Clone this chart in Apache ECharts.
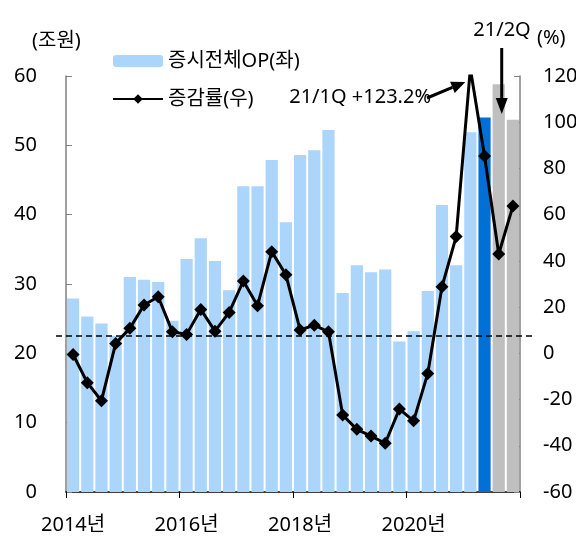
<!DOCTYPE html>
<html>
<head>
<meta charset="utf-8">
<script src="https://cdn.jsdelivr.net/npm/echarts@6/dist/echarts.min.js"></script>
<style>
  html, body { margin: 0; padding: 0; background: #fff; }
  #main { width: 576px; height: 536px; }
</style>
</head>
<body>
<div id="main"></div>
<script>
// 분기: 2014Q1 ~ 2021Q4
var quarters = [];
for (var y = 2014; y <= 2021; y++) {
    for (var q = 1; q <= 4; q++) quarters.push(y + 'Q' + q);
}

// 증시전체 OP (조원, 좌축)
var opValues = [
    27.9, 25.3, 24.3, 22.5,
    31.0, 30.6, 30.3, 24.7,
    33.6, 36.6, 33.3, 29.1,
    44.1, 44.1, 47.9, 38.9,
    48.6, 49.3, 52.2, 28.7,
    32.7, 31.7, 32.1, 21.7,
    23.2, 29.0, 41.4, 32.7,
    51.9, 54.0, 58.8, 53.7
];

// 증감률 (%, 우축)
var growth = [
    -0.5, -12.7, -20.5, 4.3,
    10.8, 20.9, 24.5, 9.3,
    8.2, 19.0, 9.6, 17.7,
    31.3, 20.6, 44.0, 34.0,
    10.1, 12.2, 9.3, -26.7,
    -32.9, -35.8, -38.9, -24.1,
    -29.2, -8.7, 28.8, 50.5,
    123.2, 85.4, 43.0, 63.7
];

var leftTicks = { min: 0, max: 60, interval: 10 };
var rightTicks = { min: -60, max: 120, interval: 20 };
var refLevel = 22.5;          // 점선 (좌축 기준)
var highlightQ = '2021Q2';
var forecastQ = ['2021Q3', '2021Q4'];

var FONT = '"Noto Sans", "Noto Sans CJK KR", sans-serif';

var chartDom = document.getElementById('main');
var myChart = echarts.init(chartDom);

var barData = quarters.map(function (c, i) {
    var item = { value: opValues[i] };
    if (c === highlightQ) item.itemStyle = { color: '#0070D6' };
    else if (forecastQ.indexOf(c) >= 0) item.itemStyle = { color: '#BFBFBF' };
    return item;
});

var option = {
    animation: false,
    textStyle: { fontFamily: FONT },
    grid: { left: 66, right: 56, top: 76, bottom: 44, containLabel: false, outerBoundsMode: 'none' },
    legend: {
        orient: 'vertical',
        left: 112,
        top: 51,
        padding: 0,
        itemWidth: 50,
        itemHeight: 12,
        itemGap: 18,
        textStyle: { fontSize: 20, color: '#000', fontFamily: FONT },
        data: ['증시전체OP(좌)', '증감률(우)']
    },
    xAxis: {
        type: 'category',
        data: quarters,
        boundaryGap: true,
        axisLine: { lineStyle: { color: '#000', width: 1.5 } },
        axisTick: { show: true, interval: 7, length: 6, lineStyle: { color: '#000' } },
        axisLabel: {
            interval: 7,
            fontSize: 20,
            color: '#000',
            margin: 23,
            formatter: function (v) { return v.slice(0, 4) + '년'; }
        },
        splitLine: { show: false }
    },
    yAxis: [
        {
            type: 'value',
            min: leftTicks.min, max: leftTicks.max, interval: leftTicks.interval,
            axisLine: { show: true, lineStyle: { color: '#808080', width: 1.5 } },
            axisTick: { show: true, inside: true, length: 6, lineStyle: { color: '#808080' } },
            axisLabel: { fontSize: 20, color: '#000', margin: 29 },
            splitLine: { show: false }
        },
        {
            type: 'value',
            position: 'right',
            min: rightTicks.min, max: rightTicks.max, interval: rightTicks.interval,
            axisLine: { show: true, lineStyle: { color: '#808080', width: 1.5 } },
            axisTick: { show: true, inside: true, length: 6, lineStyle: { color: '#808080' } },
            axisLabel: { fontSize: 20, color: '#000', margin: 23 },
            splitLine: { show: false }
        }
    ],
    series: [
        {
            name: '증시전체OP(좌)',
            type: 'bar',
            yAxisIndex: 0,
            barWidth: '86%',
            itemStyle: { color: '#ABD5FB' },
            data: barData
        },
        {
            name: '증감률(우)',
            type: 'line',
            yAxisIndex: 1,
            clip: true,
            symbol: 'diamond',
            symbolSize: 13,
            showSymbol: true,
            showAllSymbol: true,
            itemStyle: { color: '#000' },
            lineStyle: { color: '#000', width: 3 },
            data: growth,
            z: 5
        }
    ]
};

myChart.setOption(option);

// 주석: 점선, 화살표, 텍스트
function arrow(x1, y1, x2, y2, head) {
    var ang = Math.atan2(y2 - y1, x2 - x1);
    var hl = head || 13, hw = 6;
    var bx = x2 - hl * Math.cos(ang), by = y2 - hl * Math.sin(ang);
    var px = -Math.sin(ang) * hw, py = Math.cos(ang) * hw;
    return [
        { type: 'line', shape: { x1: x1, y1: y1, x2: bx, y2: by }, style: { stroke: '#000', lineWidth: 3 }, z: 20 },
        { type: 'polygon', shape: { points: [[x2, y2], [bx + px, by + py], [bx - px, by - py]] }, style: { fill: '#000' }, z: 20 }
    ];
}

var yRef = myChart.convertToPixel({ yAxisIndex: 0 }, refLevel);
var peak = myChart.convertToPixel({ xAxisIndex: 0, yAxisIndex: 1 }, [28, rightTicks.max]);
var q2 = myChart.convertToPixel({ xAxisIndex: 0, yAxisIndex: 0 }, [30, leftTicks.max]);

var graphics = [
    { type: 'line', shape: { x1: 56, y1: yRef, x2: 535, y2: yRef },
      style: { stroke: '#000', lineWidth: 1.5, lineDash: [6, 4] }, z: 10 },
    { type: 'text', left: 32, top: 31, style: { text: '(조원)', fontSize: 20, fill: '#000', fontFamily: FONT } },
    { type: 'text', left: 537, top: 28, style: { text: '(%)', fontSize: 20, fill: '#000', fontFamily: FONT } },
    { type: 'text', x: 431, y: 97, style: { text: '21/1Q +123.2%', fontSize: 20, fill: '#000', fontFamily: FONT, align: 'right', verticalAlign: 'middle' }, z: 20 },
    { type: 'text', x: 502, y: 30, style: { text: '21/2Q', fontSize: 20, fill: '#000', fontFamily: FONT, align: 'center', verticalAlign: 'middle' }, z: 20 }
];
graphics = graphics.concat(arrow(427, 98, peak[0] - 5, peak[1] + 6, 14));
graphics = graphics.concat(arrow(q2[0] + 3, 48, q2[0] + 3, 114, 16));

myChart.setOption({ graphic: graphics });
</script>
</body>
</html>
